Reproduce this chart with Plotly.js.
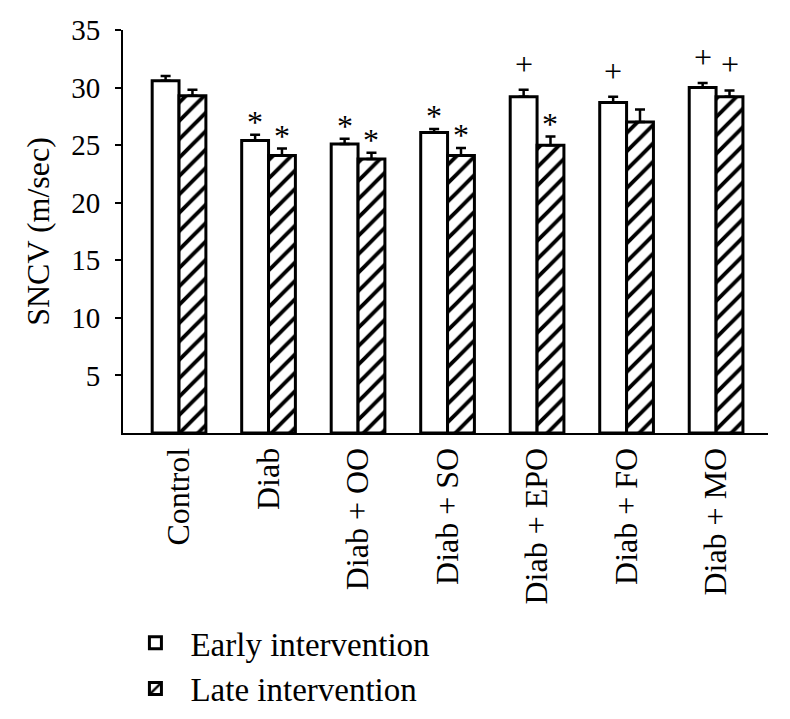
<!DOCTYPE html>
<html>
<head>
<meta charset="utf-8">
<script src="https://cdn.plot.ly/plotly-3.0.1.min.js"></script>
<style>html,body{margin:0;padding:0;background:#fff;}#chart{width:790px;height:719px;}</style>
</head>
<body>
<div id="chart"></div>
<script>
const categories = ["Control", "Diab", "Diab + OO", "Diab + SO", "Diab + EPO", "Diab + FO", "Diab + MO"];
const earlyValues = [30.6, 25.4, 25.1, 26.1, 29.2, 28.7, 30.0];
const earlyErrors = [0.4, 0.5, 0.45, 0.3, 0.6, 0.5, 0.4];
const lateValues = [29.3, 24.1, 23.8, 24.1, 25.0, 27.0, 29.2];
const lateErrors = [0.5, 0.6, 0.55, 0.65, 0.75, 1.1, 0.55];
const earlyMarks = ["", "*", "*", "*", "+", "+", "+"];
const lateMarks = ["", "*", "*", "*", "*", "", "+"];
const yTicks = [5, 10, 15, 20, 25, 30, 35];
const seriesNames = ["Early intervention", "Late intervention"];

const FONT = "Liberation Serif, Times New Roman, serif";
const xIdx = categories.map((c, i) => i);
const zeros = categories.map(() => 0);

const errStyle = {type: "data", symmetric: false, color: "black", thickness: 2.5, width: 5};

const early = {
  type: "bar", name: seriesNames[0], x: xIdx, y: earlyValues,
  marker: {color: "white", line: {color: "black", width: 3}},
  error_y: Object.assign({array: earlyErrors, arrayminus: zeros}, errStyle),
  offsetgroup: "a"
};
const late = {
  type: "bar", name: seriesNames[1], x: xIdx, y: lateValues,
  marker: {color: "white", line: {color: "black", width: 3},
    pattern: {shape: "/", fgcolor: "black", bgcolor: "white", size: 13, solidity: 0.3}},
  error_y: Object.assign({array: lateErrors, arrayminus: zeros}, errStyle),
  offsetgroup: "b"
};

const annotations = [];
function addMarks(marks, values, errors, offset) {
  marks.forEach((m, i) => {
    if (!m) return;
    annotations.push({
      x: i + offset, y: values[i] + errors[i], xref: "x", yref: "y",
      text: m, showarrow: false, yanchor: "bottom",
      yshift: m === "*" ? -7 : 6,
      font: {family: FONT, size: 32, color: "black"}
    });
  });
}
addMarks(earlyMarks, earlyValues, earlyErrors, -0.15);
addMarks(lateMarks, lateValues, lateErrors, 0.15);

const layout = {
  width: 790, height: 719,
  margin: {l: 123, r: 22, t: 30, b: 286},
  paper_bgcolor: "white", plot_bgcolor: "white",
  barmode: "group", bargap: 0.4, bargroupgap: 0,
  showlegend: true,
  legend: {x: -0.004, xanchor: "left", yref: "container", y: 0.145, yanchor: "top", orientation: "v",
    itemwidth: 60, font: {family: FONT, size: 33, color: "black"}, traceorder: "normal"},
  xaxis: {
    range: [-0.626, 6.58], tickvals: xIdx, ticktext: categories, automargin: false,
    tickangle: -90, ticks: "", showgrid: false, zeroline: false,
    showline: true, linecolor: "black", linewidth: 2,
    tickfont: {family: FONT, size: 32, color: "black"}
  },
  yaxis: {
    range: [0, 35], tickvals: yTicks, ticks: "outside", ticklen: 6, tickwidth: 2, tickcolor: "black",
    ticklabelstandoff: 9, automargin: false,
    showgrid: false, zeroline: false, showline: true, linecolor: "black", linewidth: 2,
    tickfont: {family: FONT, size: 29, color: "black"},
    title: {text: "SNCV (m/sec)", font: {family: FONT, size: 32, color: "black"}, standoff: 12}
  },
  annotations: annotations
};

Plotly.newPlot("chart", [early, late], layout, {staticPlot: true});
</script>
</body>
</html>
